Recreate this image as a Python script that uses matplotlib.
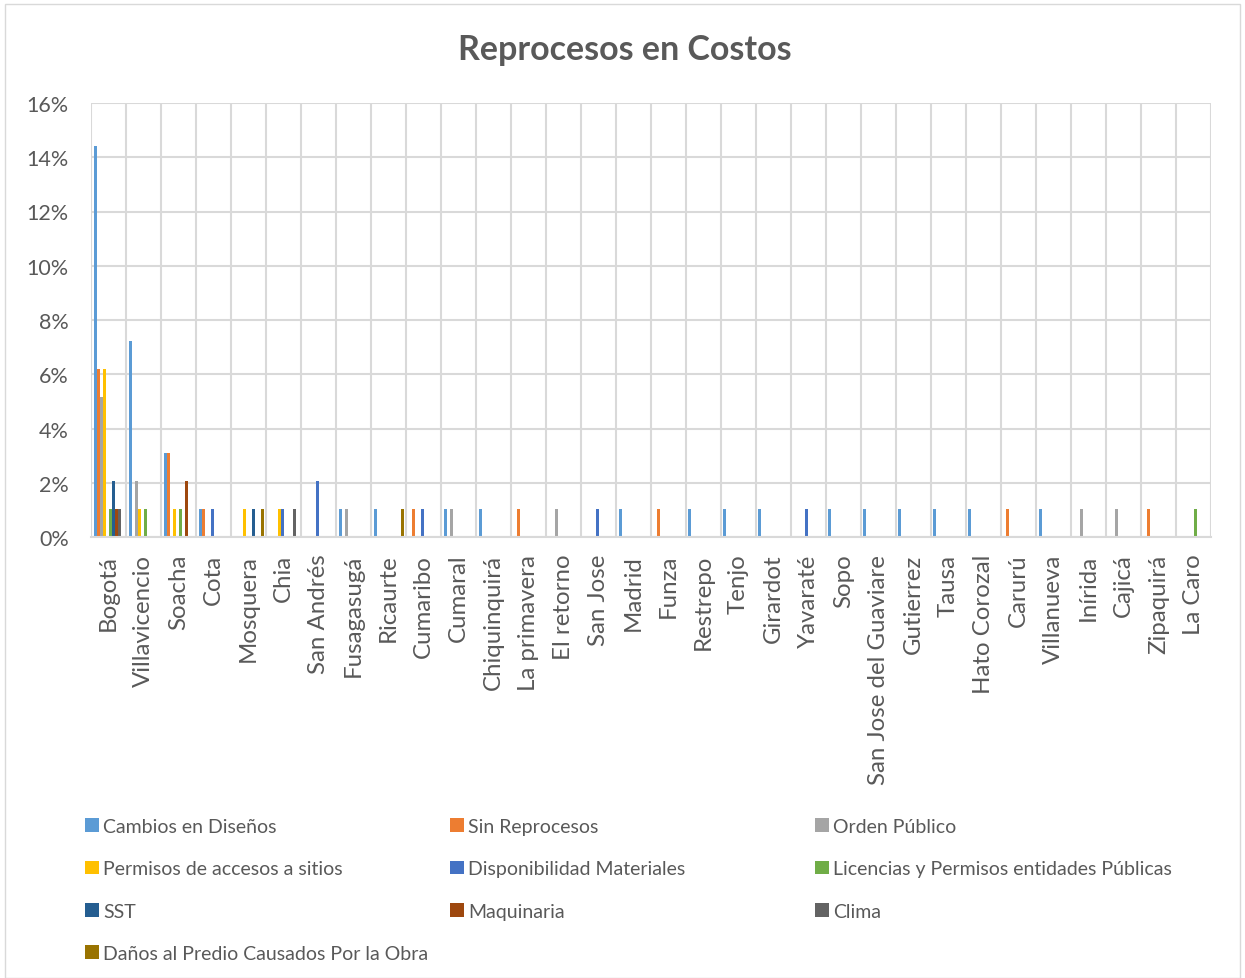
import matplotlib
matplotlib.use("Agg")
import matplotlib.pyplot as plt
from matplotlib.patches import Patch, Rectangle
import numpy as np

plt.rcParams['font.family'] = ['Lato', 'DejaVu Sans']

categories = ["Bogotá", "Villavicencio", "Soacha", "Cota", "Mosquera", "Chia", "San Andrés",
              "Fusagasugá", "Ricaurte", "Cumaribo", "Cumaral", "Chiquinquirá", "La primavera",
              "El retorno", "San Jose", "Madrid", "Funza", "Restrepo", "Tenjo", "Girardot",
              "Yavaraté", "Sopo", "San Jose del Guaviare", "Gutierrez", "Tausa", "Hato Corozal",
              "Carurú", "Villanueva", "Inírida", "Cajicá", "Zipaquirá", "La Caro"]

series_names = ["Cambios en Diseños", "Sin Reprocesos", "Orden Público",
                "Permisos de accesos a sitios", "Disponibilidad Materiales",
                "Licencias y Permisos entidades Públicas", "SST", "Maquinaria", "Clima",
                "Daños al Predio Causados Por la Obra"]

colors = ["#5B9BD5", "#ED7D31", "#A5A5A5", "#FFC000", "#4472C4", "#70AD47",
          "#255E91", "#9E480E", "#636363", "#997300"]

# counts (share = count / 97)
total = 97
cambios        = [14, 7, 3, 1, 0, 0, 0, 1, 1, 0, 1, 1, 0, 0, 0, 1, 0, 1, 1, 1, 0, 1, 1, 1, 1, 1, 0, 1, 0, 0, 0, 0]
sin_reprocesos = [6, 0, 3, 1, 0, 0, 0, 0, 0, 1, 0, 0, 1, 0, 0, 0, 1, 0, 0, 0, 0, 0, 0, 0, 0, 0, 1, 0, 0, 0, 1, 0]
orden_publico  = [5, 2, 0, 0, 0, 0, 0, 1, 0, 0, 1, 0, 0, 1, 0, 0, 0, 0, 0, 0, 0, 0, 0, 0, 0, 0, 0, 0, 1, 1, 0, 0]
permisos       = [6, 1, 1, 0, 1, 1, 0, 0, 0, 0, 0, 0, 0, 0, 0, 0, 0, 0, 0, 0, 0, 0, 0, 0, 0, 0, 0, 0, 0, 0, 0, 0]
disponibilidad = [0, 0, 0, 1, 0, 1, 2, 0, 0, 1, 0, 0, 0, 0, 1, 0, 0, 0, 0, 0, 1, 0, 0, 0, 0, 0, 0, 0, 0, 0, 0, 0]
licencias      = [1, 1, 1, 0, 0, 0, 0, 0, 0, 0, 0, 0, 0, 0, 0, 0, 0, 0, 0, 0, 0, 0, 0, 0, 0, 0, 0, 0, 0, 0, 0, 1]
sst            = [2, 0, 0, 0, 1, 0, 0, 0, 0, 0, 0, 0, 0, 0, 0, 0, 0, 0, 0, 0, 0, 0, 0, 0, 0, 0, 0, 0, 0, 0, 0, 0]
maquinaria     = [1, 0, 2, 0, 0, 0, 0, 0, 0, 0, 0, 0, 0, 0, 0, 0, 0, 0, 0, 0, 0, 0, 0, 0, 0, 0, 0, 0, 0, 0, 0, 0]
clima          = [1, 0, 0, 0, 0, 1, 0, 0, 0, 0, 0, 0, 0, 0, 0, 0, 0, 0, 0, 0, 0, 0, 0, 0, 0, 0, 0, 0, 0, 0, 0, 0]
danos          = [0, 0, 0, 0, 1, 0, 0, 0, 1, 0, 0, 0, 0, 0, 0, 0, 0, 0, 0, 0, 0, 0, 0, 0, 0, 0, 0, 0, 0, 0, 0, 0]

series = [cambios, sin_reprocesos, orden_publico, permisos, disponibilidad,
          licencias, sst, maquinaria, clima, danos]

W, H = 1245, 979
fig = plt.figure(figsize=(W / 100, H / 100), dpi=100)
fig.patches.append(Rectangle((5 / W, 0), 1235 / W, 1 - 5 / H, transform=fig.transFigure,
                             fill=False, edgecolor="#D9D9D9", linewidth=1.0))

ax = fig.add_axes([91 / W, 1 - 538 / H, (1211 - 91) / W, (538 - 104) / H])

x = np.arange(len(categories))
n = len(series)
w = 3.0 / 35.0
for j, (vals, c) in enumerate(zip(series, colors)):
    v = np.array(vals) / total
    ax.bar(x + (j - (n - 1) / 2) * w, v, width=w, color=c, linewidth=0)

ax.set_xlim(-0.5, len(categories) - 0.5)
ax.set_ylim(0, 0.16)
yt = np.arange(0, 0.161, 0.02)
ax.set_yticks(yt)
ax.set_yticklabels([f"{int(round(t * 100))}%" for t in yt], fontsize=15.5, color="#595959")
ax.set_xticks(x)
ax.set_xticklabels(categories, rotation=90, fontsize=17.3, color="#595959", va="top", ha="center")
ax.set_xticks(np.arange(-0.5, len(categories), 1), minor=True)
ax.tick_params(axis="x", which="both", length=0, pad=12)
ax.tick_params(axis="y", length=0, pad=16)
ax.grid(axis="y", which="major", color="#D9D9D9", linewidth=1.5)
ax.grid(axis="x", which="minor", color="#D9D9D9", linewidth=1.5)
ax.grid(axis="x", which="major", visible=False)
ax.set_axisbelow(True)
for s in ["top", "right", "left"]:
    ax.spines[s].set_visible(False)
ax.spines["bottom"].set_color("#D9D9D9")
ax.spines["bottom"].set_linewidth(1.5)

fig.text(625 / W, 1 - 50 / H, "Reprocesos en Costos", ha="center", va="center",
         fontsize=24.5, fontweight="bold", color="#595959")

# legend: three columns, row-major order
col_x = [85, 450, 815]
for col in range(3):
    idx = [i for i in range(n) if i % 3 == col]
    handles = [Patch(facecolor=colors[i], edgecolor="none") for i in idx]
    labels = [series_names[i] for i in idx]
    fig.legend(handles, labels, loc="upper left",
               bbox_to_anchor=(col_x[col] / W, 1 - 819 / H),
               frameon=False, fontsize=14.0, labelcolor="#595959",
               handlelength=0.7, handleheight=0.7, handletextpad=0.25,
               labelspacing=1.3, borderaxespad=0, borderpad=0)

fig.savefig("out.png", dpi=100)
